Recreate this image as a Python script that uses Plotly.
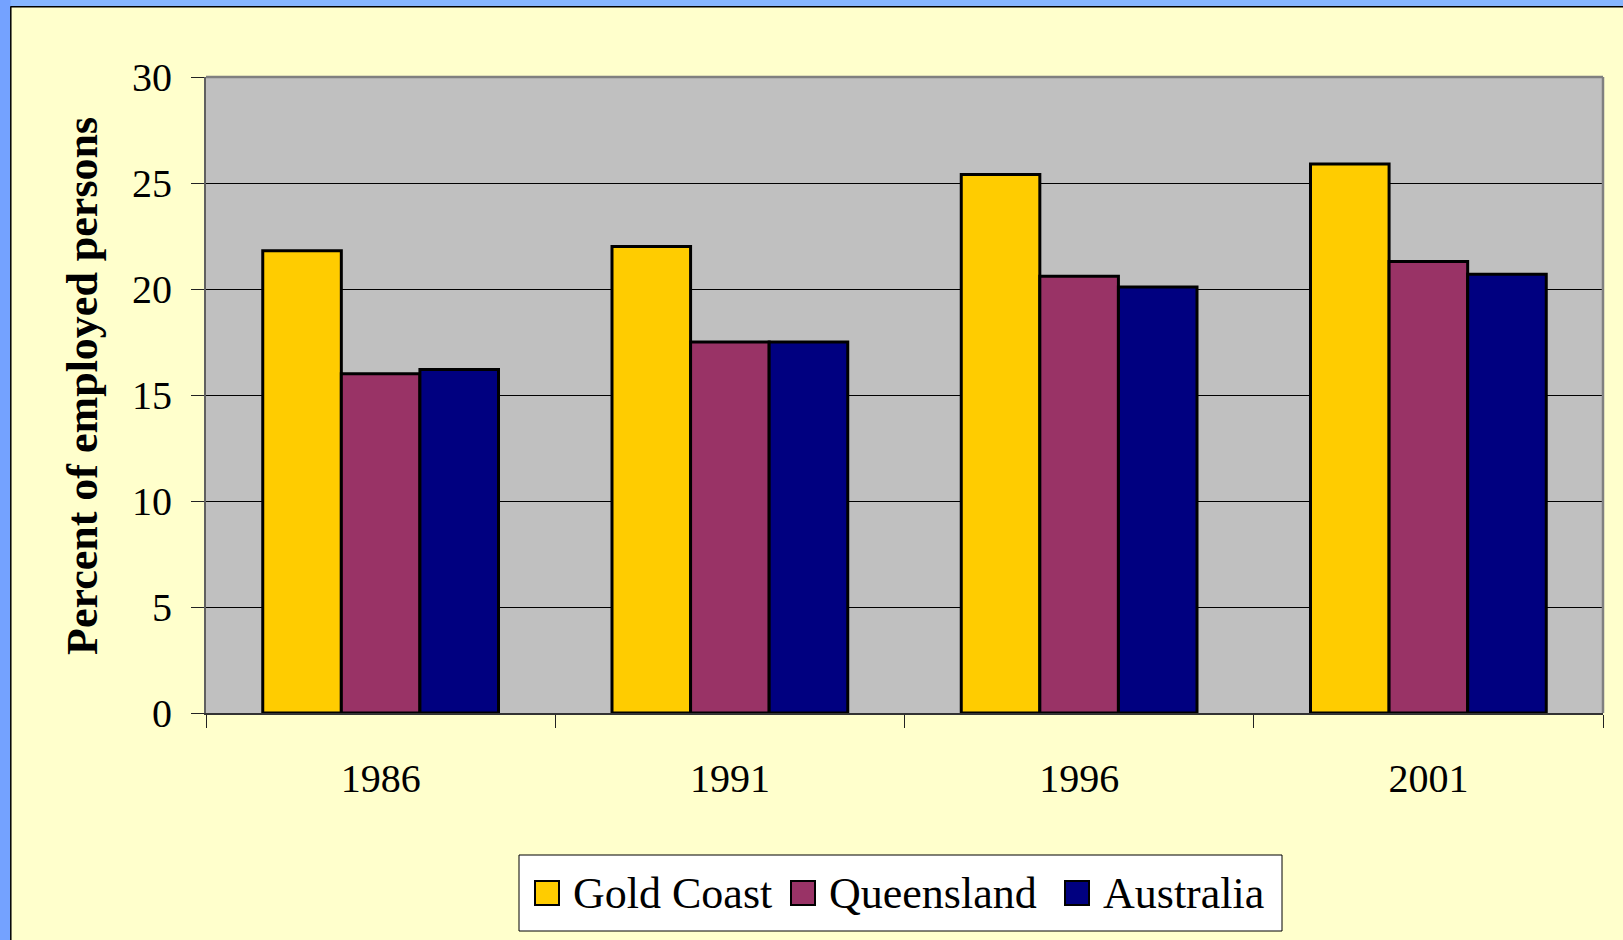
import plotly.graph_objects as go

years = ["1986", "1991", "1996", "2001"]
series_names = ["Gold Coast", "Queensland", "Australia"]
gold_coast = [21.8, 22.0, 25.4, 25.9]
queensland = [16.0, 17.5, 20.6, 21.3]
australia = [16.2, 17.5, 20.1, 20.7]
series_values = [gold_coast, queensland, australia]
series_colors = ["#FFCC00", "#993366", "#000080"]
y_ticks = [0, 5, 10, 15, 20, 25, 30]

W, H = 1623, 940
L, R, T, B = 206, 1603, 77, 713
PW, PH = R - L, B - T


def px(x):
    return (x - L) / PW


def py(y):
    return (B - y) / PH


FONT = "Liberation Serif, Times New Roman, serif"

fig = go.Figure()
for name, vals, col in zip(series_names, series_values, series_colors):
    fig.add_trace(go.Bar(
        x=years, y=vals, name=name,
        marker=dict(color=col, line=dict(color="black", width=3)),
        showlegend=False,
    ))

shapes = []
annotations = []

# page frame: blue stripes and black border
shapes.append(dict(type="rect", xref="paper", yref="paper", layer="below",
                   x0=px(0), x1=px(W), y0=py(0), y1=py(6.5),
                   fillcolor="#86B6FF", line=dict(width=0)))
shapes.append(dict(type="rect", xref="paper", yref="paper", layer="below",
                   x0=px(0), x1=px(10.5), y0=py(0), y1=py(H),
                   fillcolor="#74A2FF", line=dict(width=0)))
shapes.append(dict(type="line", xref="paper", yref="paper", layer="below",
                   x0=px(10.5), x1=px(W), y0=py(6.8), y1=py(6.8),
                   line=dict(color="black", width=1.5)))
shapes.append(dict(type="line", xref="paper", yref="paper", layer="below",
                   x0=px(10.8), x1=px(10.8), y0=py(6.5), y1=py(H),
                   line=dict(color="black", width=1.5)))

# plot area frame (top/right grey)
shapes.append(dict(type="line", xref="paper", yref="paper", layer="above",
                   x0=0, x1=1, y0=1, y1=1, line=dict(color="#808080", width=2.5)))
shapes.append(dict(type="line", xref="paper", yref="paper", layer="above",
                   x0=1, x1=1, y0=0, y1=1, line=dict(color="#808080", width=2.5)))

# custom legend
shapes.append(dict(type="rect", xref="paper", yref="paper", layer="above",
                   x0=px(519), x1=px(1282), y0=py(855), y1=py(931),
                   fillcolor="white", line=dict(color="black", width=1)))
sw_x = [535, 791, 1065]
tx_x = [571, 827, 1101]
for name, col, sx, tx in zip(series_names, series_colors, sw_x, tx_x):
    shapes.append(dict(type="rect", xref="paper", yref="paper", layer="above",
                       x0=px(sx), x1=px(sx + 24), y0=py(881), y1=py(905),
                       fillcolor=col, line=dict(color="black", width=2)))
    annotations.append(dict(xref="paper", yref="paper", x=px(tx), y=py(893),
                            xanchor="left", yanchor="middle", showarrow=False,
                            text=name, font=dict(family=FONT, size=44, color="black")))

annotations.append(dict(xref="paper", yref="paper", x=px(83), y=py(386),
                        xanchor="center", yanchor="middle", showarrow=False,
                        textangle=-90, text="<b>Percent of employed persons</b>",
                        font=dict(family=FONT, size=44, color="black")))

fig.update_layout(
    width=W, height=H,
    margin=dict(l=L, r=W - R, t=T, b=H - B, pad=0),
    paper_bgcolor="#FFFFCC",
    plot_bgcolor="#C0C0C0",
    barmode="group",
    bargap=0.325,
    bargroupgap=0,
    shapes=shapes,
    annotations=annotations,
    font=dict(family=FONT, color="black"),
    xaxis=dict(
        type="category",
        tickson="boundaries",
        ticks="outside", ticklen=13, tickwidth=1, tickcolor="#222222",
        showline=True, linecolor="#333333", linewidth=1.5,
        showgrid=False,
        tickfont=dict(family=FONT, size=40, color="black"),
        ticklabelstandoff=29,
    ),
    yaxis=dict(
        range=[0, 30],
        tickvals=y_ticks,
        ticks="outside", ticklen=13, tickwidth=1, tickcolor="#222222",
        showline=True, linecolor="#606060", linewidth=2,
        showgrid=True, gridcolor="black", gridwidth=1,
        zeroline=False,
        tickfont=dict(family=FONT, size=40, color="black"),
        ticklabelstandoff=11,
    ),
)

fig.write_html(
    "out.html",
    config={"displayModeBar": False},
    post_script="document.body.style.margin='0';document.body.style.overflow='hidden';",
)
